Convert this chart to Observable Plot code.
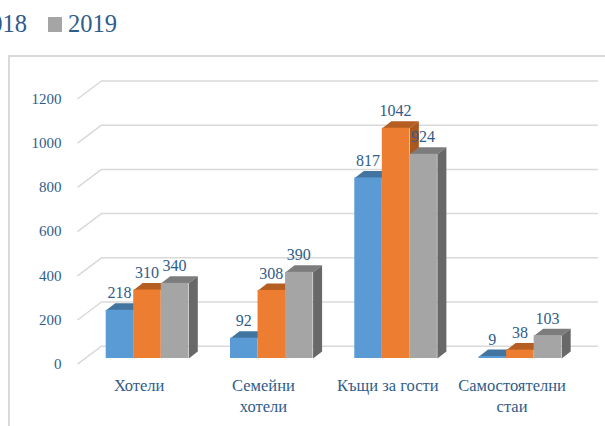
<!DOCTYPE html>
<html><head><meta charset="utf-8">
<script src="https://cdn.jsdelivr.net/npm/d3@7"></script>
<script src="https://cdn.jsdelivr.net/npm/@observablehq/plot@0.6"></script>
<style>
html,body{margin:0;padding:0;background:#fff;overflow:hidden;width:605px;height:426px}
body{position:relative;font-family:"Liberation Serif",serif;color:#2f5c8a}
#frame{position:absolute;left:8px;top:55px;width:700px;height:500px;border:2px solid #d9d9d9;box-sizing:border-box}
#legend{position:absolute;top:9px;left:-22px;font-size:24.5px;line-height:30px;white-space:nowrap;display:flex;align-items:center}
#legend i{display:inline-block;width:14px;height:15px;margin:0 6px 0 21px}
#chart{position:absolute;left:0;top:55px}
svg{display:block;background:transparent!important;overflow:visible}
</style></head><body>
<div id="frame"></div>
<div id="legend"><span>2018</span><i style="background:#a5a5a5"></i><span>2019</span></div>
<div id="chart"></div>
<script>
const categories = ["Хотели", "Семейни\nхотели", "Къщи за гости", "Самостоятелни\nстаи"];
const seriesNames = ["2017", "2018", "2019"];
const values2017 = [218, 92, 817, 9];
const values2018 = [310, 308, 1042, 38];
const values2019 = [340, 390, 924, 103];
const yTicks = [0, 200, 400, 600, 800, 1000, 1200];
const frontColors = ["#5b9bd5", "#ed7d31", "#a5a5a5"];
const topColors = ["#4274a0", "#b55e22", "#7c7c7c"];
const sideColors = ["#3f6d96", "#a9591f", "#686868"];

const ink = "#2f5c8a";
const font = "Liberation Serif";
const barW = 0.2215, depthX = 0.0724, depthY = 31.7;
const seriesValues = [values2017, values2018, values2019];
const rows = seriesValues.map((vals, j) => vals.map((v, i) => ({
  series: seriesNames[j], j, i, value: v, x0: i + j * barW, x1: i + (j + 1) * barW
})));
const topFace = r => [[r.x0, r.value], [r.x1, r.value], [r.x1 + depthX, r.value + depthY], [r.x0 + depthX, r.value + depthY]];
const sideFace = r => [[r.x1, 0], [r.x1 + depthX, depthY], [r.x1 + depthX, r.value + depthY], [r.x1, r.value]];
const face = (rs, f, fill) => Plot.line(
  rs.flatMap(r => f(r).map(p => ({x: p[0], y: p[1], key: r.i}))),
  {x: "x", y: "y", z: "key", fill, stroke: "none", curve: "linear"}
);

const marks = [
  Plot.ruleY(yTicks, {x1: -0.0378, x2: 3.96, y: d => d + 55.6, stroke: "#d9d9d9", strokeWidth: 1.5}),
  Plot.link(yTicks, {x1: -0.2308, x2: -0.0378, y1: d => d - 25.8, y2: d => d + 55.6, stroke: "#d9d9d9", strokeWidth: 1.5}),
  Plot.text(yTicks, {x: () => -0.36, y: d => d - 25.8, text: d => String(d), textAnchor: "end",
    fontSize: 15, fontFamily: font, fill: ink})
];
rows.forEach((rs, j) => {
  marks.push(face(rs, topFace, topColors[j]));
  marks.push(face(rs, sideFace, sideColors[j]));
  marks.push(Plot.rectY(rs, {x1: "x0", x2: "x1", y1: () => 0, y2: "value", fill: frontColors[j]}));
});
rows.forEach(rs => {
  marks.push(Plot.text(rs, {x: r => (r.x0 + r.x1) / 2, y: "value", text: r => String(r.value), dy: -17,
    dx: -0.5, fontSize: 16, fontFamily: font, fill: ink}));
});
marks.push(Plot.text(categories, {x: (d, i) => i + 0.265, y: () => 0, text: d => d, dy: 18,
  lineAnchor: "top", lineHeight: 1.27, fontSize: 16.5, fontFamily: font, fill: ink}));

const plot = Plot.plot({
  width: 605, height: 371, margin: 0,
  x: {type: "linear", domain: [-0.8504, 4.017], range: [0, 605], axis: null},
  y: {type: "linear", domain: [0, 1200], range: [303, 37.8], axis: null},
  marks
});
document.getElementById("chart").append(plot);
</script>
</body></html>
